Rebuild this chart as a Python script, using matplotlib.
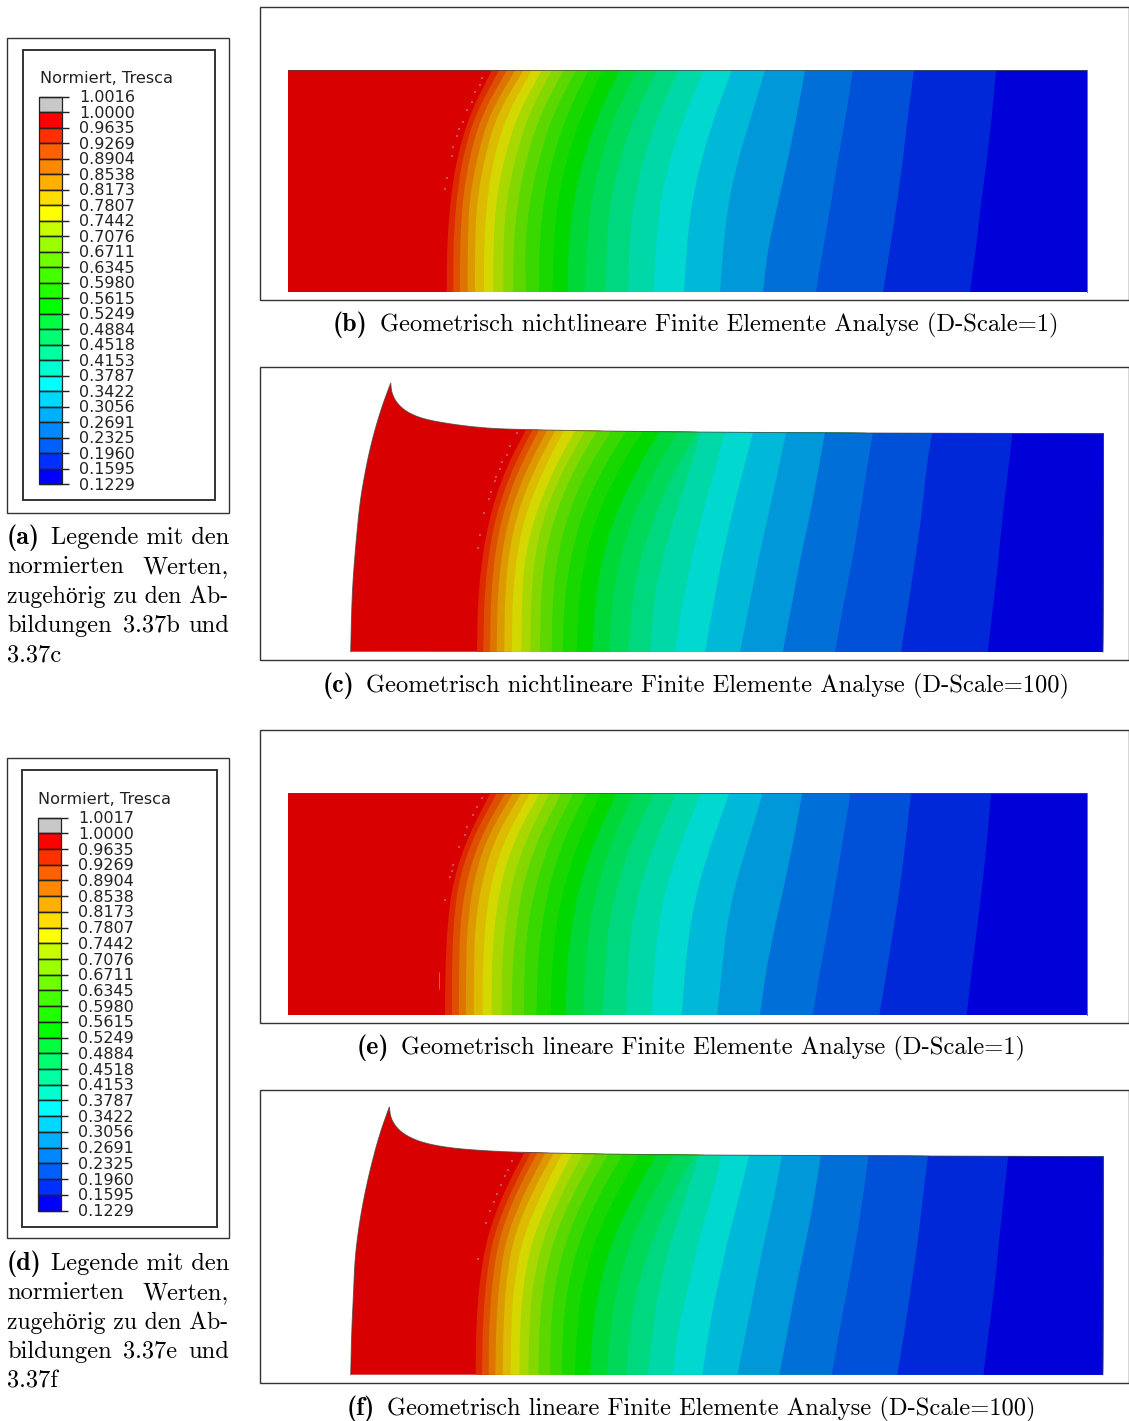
import numpy as np
import matplotlib
matplotlib.use("Agg")
import matplotlib.pyplot as plt
from matplotlib.path import Path
from matplotlib.patches import PathPatch, Rectangle

# ---- legend data
LABELS_A = ["1.0016","1.0000","0.9635","0.9269","0.8904","0.8538","0.8173","0.7807","0.7442","0.7076","0.6711","0.6345","0.5980","0.5615","0.5249","0.4884","0.4518","0.4153","0.3787","0.3422","0.3056","0.2691","0.2325","0.1960","0.1595","0.1229"]
LABELS_D = ["1.0017"] + LABELS_A[1:]
LEGEND_COLORS = ["#c8c8c8","#ff0000","#ff3000","#ff6000","#ff8800","#ffb000","#ffdd00","#ffff00","#c8ff00","#9cff00","#70ff00","#44ff00","#20ff00","#00ff00","#00ff40","#00ff70","#00ffa0","#00ffd0","#00ffff","#00d8ff","#00b0ff","#0088ff","#0060ff","#0030ff","#0000ff"]
FIELD_COLORS = ["#d80000","#dd2a00","#dd5000","#dd7500","#dd9900","#ddbb00","#d4d800","#a8d800","#84d800","#5cd800","#38d800","#18d800","#00d800","#00d838","#00d85a","#00d880","#00d8a8","#00d8d0","#00b8d8","#0098d8","#0070d8","#0050d8","#0028d8","#0000d8"]

# ---- contour boundaries (one row per boundary, one column per height)
ROWS_B = [70.5,115,159,203,248,292]
B_LEFT = [[491.7,469.3,456.7,450,447,446.7],[499,475,462.3,456,453.3,453.3],[506.7,481.7,469,462.3,460,460],[515,489,476.7,469,467.7,467.7],[523.3,496.7,484.3,476.7,475,475],[531.7,506.7,493.3,486.7,484,484],[541.7,517.3,504,495.7,493.3,493.3],[551.7,528.3,515,506,503.3,503.3],[563.3,540,526,517.3,513.3,513.3],[575.7,552.7,539,529.3,525,526],[588.3,566.7,552.3,543.3,539.3,539],[602.7,581.7,566.7,557.3,553.3,552.7],[619.3,598.3,583.3,573.3,568.3,567.7],[636.7,615,600.7,591,586.7,585],[656.7,635,620,610,606.7,605],[678.3,658.3,643.3,633.3,629.3,627.7],[703.3,685,670,660,655.7,653.3],[731.7,715,701.7,691.7,686.7,684],[765,751.7,738.3,728.3,723.3,720]]
B_RIGHT = [[805,797,788,778,768,763],[853,846,838,831,823,816],[914,908,903,897,890,883],[996,992,987,981,976,970]]

ROWS_E = [793.5,838,882,926,971,1015]
E_LEFT = [[490,467.3,452.7,447.3,445.3,445],[496.7,472.7,458.3,453.3,452,452],[505,480,466,460,459,459],[512.7,486.7,473.3,467.3,466,466],[521,495,481.7,475,474,474],[530,505,491,485,482.7,482.7],[539.3,515,501,494.3,491.7,491.7],[549.3,526.7,511.7,505,501.7,501.7],[561,538.3,523.3,516,512.3,511.7],[573.3,550.7,536.7,527.3,524.3,524],[586,564.3,550,541.7,537.3,536.7],[600.7,580,565,556,551.7,550.7],[616.7,596,580.7,571.7,566.7,565.7],[634,613.3,598.3,589.3,585,583.3],[654,633.3,618.3,608.3,605,602.7],[676,656.7,640.7,631.7,627.3,625.7],[700.7,682.7,667.3,658.3,654,651.7],[729.3,713.3,699.3,690,685,681.7],[762.7,749.3,736,726.7,721.7,717.3]]
E_RIGHT = [[802.3,794,785,775,766,760],[850.3,843.3,836,828.3,820,812.7],[911,906,900.7,894,886.7,879.3],[991,987.3,982.7,977.3,971.7,966.7]]

ROWS_C = [425,470,515,560,605,652]
C_LEFT = [[528.3,505,490,481.7,477.7,477],[535,511.7,496,487.7,484,483.3],[541.7,518.3,502.3,494,490.7,490],[550,526,509.3,500.7,497.3,496.7],[558.3,534,516.7,507.7,504.7,504.3],[566.7,543.3,525,516,512.3,512],[578.3,553.3,535,524.3,521.7,521.3],[588.3,562.7,544,534,531,530.3],[600.7,573.3,555,544,540.7,540],[615,586.7,567.7,556.7,552.3,551.7],[630,601.7,581.7,570,564,562.7],[646.7,618.3,597.3,584.3,578.3,576.7],[663.3,636.7,615,601.7,595,592.3],[681.7,655,633.3,620,611.7,609.3],[701.7,675,655,640,631.7,628.3]]
C_RIGHT = [[702.7,690,675,661.7,653.3,650],[726.7,715,701.7,691.7,681.7,675],[755,743.3,731.7,721.7,713.3,705],[787.7,778.3,768.3,758.3,749.3,740],[826.3,818.3,810,800,791.7,782.7],[874,866.7,860,852.3,843.3,835],[933.3,926,921.7,915,908.3,901],[1013.3,1008.3,1002.7,998.3,993.3,987.7]]

ROWS_F = [1148,1193,1238,1283,1328,1375]
F_LEFT = [[526.7,503.3,486.7,479.3,476,475.7],[533.3,510,492.7,485.7,482.7,482],[540,516,499,492,489,488.7],[548.3,524,506,499,496,495.3],[556.7,531.7,513.3,506,503.3,502.7],[565,541.7,522.7,514,511,510.7],[575,551.7,532.7,523.3,520,519.3],[586,561.7,543.3,532.7,529.3,528.3],[598.3,573.3,554,543.3,539.3,538.3],[611.7,586,566.7,555,550.7,550],[626.7,600,580,568.3,562.7,561.7],[642.7,616.7,596,582.7,576.7,575],[660,635,613.3,600,592.7,590],[678.3,653.3,631.7,618.3,610,607.3],[698.3,673.3,653.3,638.3,630,626.7]]
F_RIGHT = [[700.7,687.3,671.7,660,652.7,648],[723.3,712.7,699.3,689.3,678.3,672.7],[751,740,728.3,718.3,709.3,702.3],[783.3,775,765,755.7,746.7,737.3],[822,815,806.7,796.7,788.3,779.3],[869.7,863.3,856.7,848.3,840,831.7],[929,923.3,918.3,911.7,905,897.3],[1009,1004.3,999.3,995,989.3,983.3]]

# ---- deformed outlines of the D-Scale=100 plots
C_OUT_X = [350.7,351.7,353.3,356.7,359.7,363.3,370,380,390.7]
C_OUT_Y = [651.7,608,575,535,505,482,448,412,383]
C_TOP_X = [390.7,391.7,396.7,406.7,423,450,483,517,597,690,845,1103.5]
C_TOP_Y = [383,393,403,412,419,424,428,429.5,431,432,433,433.7]
F_OUT_X = [350.7,351.7,353.3,355,358.7,363.3,370,379.3,389.3]
F_OUT_Y = [1374.7,1331,1298,1258,1228,1201,1170,1135,1107]
F_TOP_X = [389.3,390.7,396.7,406.7,423.3,450,483.3,516.7,596.7,690,853,1103.3]
F_TOP_Y = [1107,1118,1128,1136,1143,1148,1150.7,1152.3,1154,1155,1155.7,1156.7]

# ---- isolated grey specks
B_SPECK_X = [481.7,480,475,471.7,466.7,463.3,459,457.3,453.3,452.3,446.7,445.3]
B_SPECK_Y = [78.3,85,92.3,101.7,110,121.7,129,136,147.3,155.7,178.3,189]
E_SPECK_X = [481.7,476.7,473.3,467.3,464.7,459.3,453.3,451.7,450,445.3]
E_SPECK_Y = [798,807,814.7,827.3,834.7,847,864.7,871.3,877.3,900.3]
C_SPECK_X = [516.7,510,506.7,502.3,500,496,495,490.7,489,484.3,480,478]
C_SPECK_Y = [433.3,446,455,462.3,469,476.7,481,491.7,499,513,535,548.3]
F_SPECK_X = [512.3,507.7,505,501,497.3,494,490,486,477.7]
F_SPECK_Y = [1160.7,1170.3,1176.3,1185.3,1194,1202,1211.3,1222.7,1259.3]

def smooth(xs, ys, n=3):
    p = np.column_stack([xs, ys]).astype(float)
    for _ in range(n):
        q = [p[0]]
        for a, b in zip(p[:-1], p[1:]):
            q += [0.75*a + 0.25*b, 0.25*a + 0.75*b]
        q.append(p[-1])
        p = np.array(q)
    return p

fig = plt.figure(figsize=(11.29, 14.21), dpi=100)
ax = fig.add_axes([0, 0, 1, 1])
ax.set_xlim(0, 1129); ax.set_ylim(1421, 0); ax.axis("off")

ROMAN = ["cmr10", "Liberation Serif"]
BOLD = ["cmb10", "Liberation Serif"]
FS = 17.65
FS_B = 18.8
TXT = "#222222"

def frame(y0, y1, x0=260, x1=1128.5):
    ax.add_patch(Rectangle((x0, y0), x1-x0, y1-y0, fill=False, ec="#333333", lw=1.0))

def field(outline, edge, rows, left, right, sx, sy):
    clip = PathPatch(Path(outline, closed=False), fc=FIELD_COLORS[0], ec="none", zorder=2)
    ax.add_patch(clip)
    for i, bx in enumerate(list(left) + list(right)):
        p = smooth(bx, rows)
        verts = np.vstack([p, [[1300, p[-1, 1]], [1300, p[0, 1]]]])
        poly = ax.fill(verts[:, 0], verts[:, 1], color=FIELD_COLORS[i+1], lw=0, zorder=3)[0]
        poly.set_clip_path(clip)
    ax.scatter(sx, sy, s=1.2, c="#c09090", marker="s", lw=0, alpha=0.6, zorder=4)
    ax.plot(edge[:, 0], edge[:, 1], color="#444444", lw=0.7, alpha=0.75, zorder=5)

def rect_outline(x0, x1, y0, y1):
    return np.array([[x0, y1], [x0, y0], [x1, y0], [x1, y1], [x0, y1]], float)

def deformed_outline(ox, oy, tx, ty, xr, yb):
    a = smooth(ox, oy); b = smooth(tx, ty, 2)
    return np.vstack([a, b, [[xr, yb]], [a[0]]])

frame(7, 300); frame(367, 660); frame(730, 1023); frame(1090, 1383)
o = rect_outline(288, 1087, 70, 292)
field(o, o[1:-1], ROWS_B, B_LEFT, B_RIGHT, B_SPECK_X, B_SPECK_Y)
o = rect_outline(288, 1087, 793, 1015)
field(o, o[1:-1], ROWS_E, E_LEFT, E_RIGHT, E_SPECK_X, E_SPECK_Y)
ax.vlines(439.3, 972, 989, color="#d09090", lw=0.7, alpha=0.7, zorder=4)
o = deformed_outline(C_OUT_X, C_OUT_Y, C_TOP_X, C_TOP_Y, 1103, 652)
field(o, o[:-1], ROWS_C, C_LEFT, C_RIGHT, C_SPECK_X, C_SPECK_Y)
o = deformed_outline(F_OUT_X, F_OUT_Y, F_TOP_X, F_TOP_Y, 1103, 1374.7)
field(o, o[:-1], ROWS_F, F_LEFT, F_RIGHT, F_SPECK_X, F_SPECK_Y)

def legend(outer, inner, bx0, bx1, tick, y_top, y_one, y_last, title_x, title_y, lab_x, labels):
    ax.add_patch(Rectangle((outer[0], outer[2]), outer[1]-outer[0], outer[3]-outer[2], fill=False, ec="#333333", lw=1.0))
    ax.add_patch(Rectangle((inner[0], inner[2]), inner[1]-inner[0], inner[3]-inner[2], fill=False, ec="#333333", lw=1.4))
    ax.text(title_x, title_y, "Normiert, Tresca", family="DejaVu Sans", fontsize=11.65, color=TXT, va="center", ha="left")
    step = (y_last - y_one)/24
    ys = [y_top] + [y_one + k*step for k in range(25)]
    for k in range(25):
        ax.bar((bx0+bx1)/2, ys[k+1]-ys[k], width=bx1-bx0, bottom=ys[k], color=LEGEND_COLORS[k], ec="#222222", lw=0.9, zorder=3)
    ax.hlines(ys, bx0, tick, color="#222222", lw=1.0, zorder=4)
    for k, (y, s) in enumerate(zip(ys, labels)):
        ax.text(lab_x + (0.6 if k < 2 else 0), y + 1, s, family="DejaVu Sans", fontsize=11.5, color=TXT, va="center", ha="left")

legend((7, 229, 38, 513), (23, 215, 50, 500), 39, 62, 69, 97, 112.3, 484.3, 40, 78.5, 79, LABELS_A)
legend((7, 229, 758, 1238), (22, 216.5, 770, 1227), 38, 61, 68, 817.7, 833.3, 1210.5, 38.5, 799, 78, LABELS_D)

def caption(x_lab, x_txt, y, lab, txt):
    ax.text(x_lab, y, lab, family=BOLD, fontsize=FS_B, va="baseline", color="black")
    ax.text(x_txt, y, txt, family=ROMAN, fontsize=FS, va="baseline", color="black")

caption(333, 380, 331, "(b)", "Geometrisch nichtlineare Finite Elemente Analyse (D-Scale=1)")
caption(323, 366, 692, "(c)", "Geometrisch nichtlineare Finite Elemente Analyse (D-Scale=100)")
caption(357, 401, 1054, "(e)", "Geometrisch lineare Finite Elemente Analyse (D-Scale=1)")
caption(347, 387, 1415, "(f)", "Geometrisch lineare Finite Elemente Analyse (D-Scale=100)")

def side(y, lab, ref):
    dy = 29.3
    ax.text(7, y, lab, family=BOLD, fontsize=FS_B, va="baseline")
    ax.text(229, y, "Legende mit den", family=ROMAN, fontsize=FS, va="baseline", ha="right")
    ax.text(7, y+dy, "normierten", family=ROMAN, fontsize=FS, va="baseline")
    ax.text(229, y+dy, "Werten,", family=ROMAN, fontsize=FS, va="baseline", ha="right")
    ax.text(7, y+2*dy, "zugehörig zu den Ab-", family=ROMAN, fontsize=17.1, va="baseline")
    ax.text(7, y+3*dy, "bildungen", family=ROMAN, fontsize=FS, va="baseline")
    ax.text(123, y+3*dy, ref[0], family=ROMAN, fontsize=FS, va="baseline")
    ax.text(229, y+3*dy, "und", family=ROMAN, fontsize=FS, va="baseline", ha="right")
    ax.text(7, y+4*dy, ref[1], family=ROMAN, fontsize=FS, va="baseline")

side(544, "(a)", ("3.37b", "3.37c"))
side(1270, "(d)", ("3.37e", "3.37f"))

fig.savefig("out.png", dpi=100)
